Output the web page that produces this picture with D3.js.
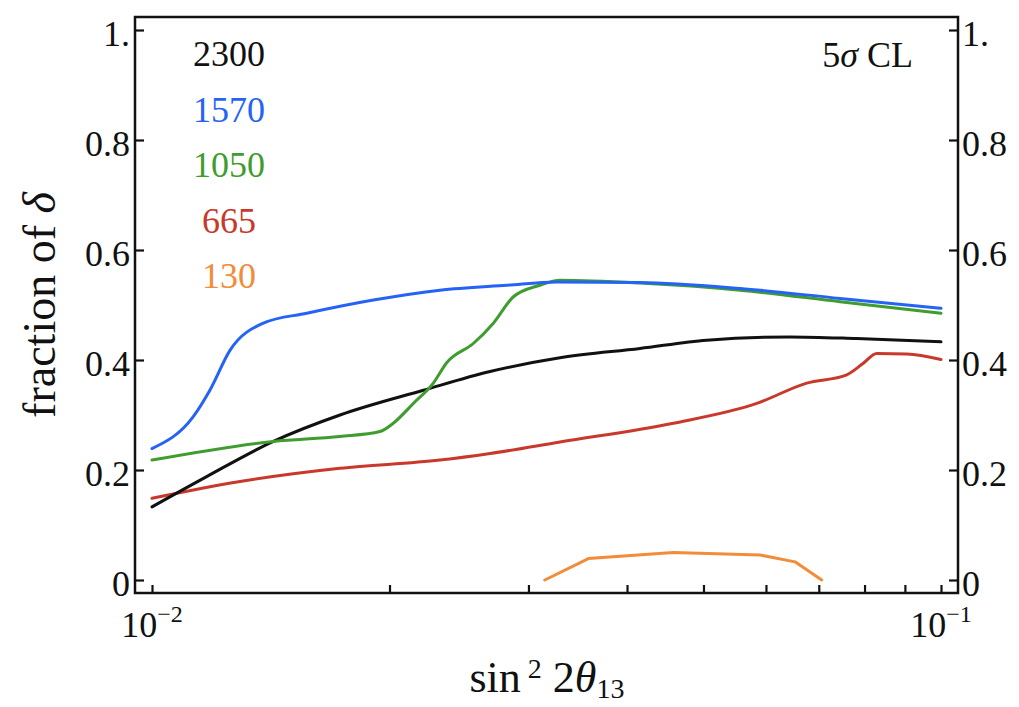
<!DOCTYPE html>
<html>
<head>
<meta charset="utf-8">
<script src="https://cdn.jsdelivr.net/npm/d3@7/dist/d3.min.js"></script>
<style>
  html, body { margin: 0; padding: 0; background: #fff; }
  svg { display: block; }
  text { font-family: "Liberation Serif", "DejaVu Serif", serif; fill: #111; }
</style>
</head>
<body>
<svg id="chart" width="1019" height="707"></svg>
<script>
// sin^2 2θ13 sample points and fraction of δ for each exposure
const x2300 = [0.0100, 0.01173, 0.01425, 0.01731, 0.02208, 0.02682, 0.03289, 0.04154, 0.05047, 0.06436, 0.0782, 0.1000];
const y2300 = [0.133, 0.188, 0.252, 0.300, 0.345, 0.379, 0.404, 0.421, 0.436, 0.442, 0.439, 0.433];

const x1570 = [0.0100, 0.01128, 0.01184, 0.01256, 0.01384, 0.01571, 0.01908, 0.02317, 0.02816, 0.03258, 0.04154, 0.05564, 0.07447, 0.1000];
const y1570 = [0.239, 0.297, 0.345, 0.418, 0.467, 0.485, 0.509, 0.527, 0.536, 0.542, 0.541, 0.530, 0.512, 0.494];

const x1050 = [0.0100, 0.01425, 0.01731, 0.01945, 0.02022, 0.02144, 0.02273, 0.02363, 0.02554, 0.02708, 0.02871, 0.03102, 0.03289, 0.04154, 0.05564, 0.07447, 0.1000];
const y1050 = [0.218, 0.252, 0.261, 0.270, 0.285, 0.321, 0.358, 0.395, 0.430, 0.467, 0.515, 0.536, 0.545, 0.540, 0.527, 0.506, 0.485];

const x665 = [0.0100, 0.01293, 0.01731, 0.02317, 0.02682, 0.03289, 0.04579, 0.0584, 0.06757, 0.07594, 0.07971, 0.08289, 0.09048, 0.1000];
const y665 = [0.1485, 0.179, 0.203, 0.218, 0.230, 0.251, 0.285, 0.321, 0.358, 0.373, 0.394, 0.412, 0.411, 0.401];

const x130 = [0.03147, 0.03573, 0.04579, 0.05897, 0.06531, 0.0706];
const y130 = [0.000, 0.039, 0.050, 0.0455, 0.033, 0.000];

const seriesNames = ["2300", "1570", "1050", "665", "130"];
const seriesColors = ["#111111", "#2463f5", "#3f9c2e", "#c8392c", "#f28c38"];

const xTicks = [0.01, 0.02, 0.03, 0.04, 0.05, 0.06, 0.07, 0.08, 0.09, 0.1];
const xTickLabels = [[0.01, "10", "\u22122"], [0.1, "10", "\u22121"]];
const yTicks = [0, 0.2, 0.4, 0.6, 0.8, 1];
const yTickLabels = ["0", "0.2", "0.4", "0.6", "0.8", "1."];

const svg = d3.select("#chart");

const frame = { left: 135, right: 958, top: 17, bottom: 593 };
const x = d3.scaleLog().domain([0.01, 0.1]).range([152, 941]);
const y = d3.scaleLinear().domain([0, 1]).range([580, 30]);

// data curves
const series = [
  { xs: x2300, ys: y2300, curve: d3.curveMonotoneX },
  { xs: x1570, ys: y1570, curve: d3.curveMonotoneX },
  { xs: x1050, ys: y1050, curve: d3.curveMonotoneX },
  { xs: x665,  ys: y665,  curve: d3.curveMonotoneX },
  { xs: x130,  ys: y130,  curve: d3.curveLinear }
];

const lines = svg.append("g");
// draw order: red, black, green, blue on top, orange
[3, 0, 2, 1, 4].forEach(i => {
  const s = series[i];
  const pts = s.xs.map((v, k) => [v, s.ys[k]]);
  const line = d3.line().x(d => x(d[0])).y(d => y(d[1])).curve(s.curve);
  lines.append("path")
    .attr("d", line(pts))
    .attr("fill", "none")
    .attr("stroke", seriesColors[i])
    .attr("stroke-width", 3)
    .attr("stroke-linejoin", "round")
    .attr("stroke-linecap", "round");
});

// frame
svg.append("rect")
  .attr("x", frame.left).attr("y", frame.top)
  .attr("width", frame.right - frame.left).attr("height", frame.bottom - frame.top)
  .attr("fill", "none").attr("stroke", "#111").attr("stroke-width", 2.5);

// bottom ticks, pointing inward
const xAxis = svg.append("g")
  .attr("transform", `translate(0,${frame.bottom})`)
  .call(d3.axisBottom(x).tickValues(xTicks).tickSize(-8).tickFormat(""));
xAxis.select(".domain").remove();
xAxis.selectAll(".tick line").attr("stroke", "#111").attr("stroke-width", 2.2);

// left and right ticks with labels
const yFmt = (d, i) => yTickLabels[i];
const yLeft = svg.append("g")
  .attr("transform", `translate(${frame.left},0)`)
  .call(d3.axisLeft(y).tickValues(yTicks).tickSize(-9).tickPadding(5).tickFormat(yFmt));
const yRight = svg.append("g")
  .attr("transform", `translate(${frame.right},0)`)
  .call(d3.axisRight(y).tickValues(yTicks).tickSize(-9).tickPadding(4).tickFormat(yFmt));
[yLeft, yRight].forEach(g => {
  g.select(".domain").remove();
  g.selectAll(".tick line").attr("stroke", "#111").attr("stroke-width", 2.2);
  g.selectAll(".tick text")
    .attr("font-family", "Liberation Serif, serif")
    .attr("font-size", 36)
    .attr("dy", "0.42em")
    .attr("fill", "#111");
});

// x tick labels 10^-2 and 10^-1
xTickLabels.forEach(([v, base, exp]) => {
  const t = svg.append("text")
    .attr("x", x(v))
    .attr("y", 637)
    .attr("text-anchor", "middle")
    .attr("font-size", 36);
  t.append("tspan").text(base);
  t.append("tspan").attr("dy", -15).attr("font-size", 24).text(exp);
});

// legend
seriesNames.forEach((name, i) => {
  svg.append("text")
    .attr("x", 229)
    .attr("y", 66 + i * 55.5)
    .attr("text-anchor", "middle")
    .attr("font-size", 36)
    .style("fill", seriesColors[i])
    .text(name);
});

// confidence level note
const cl = svg.append("text")
  .attr("x", 913).attr("y", 67)
  .attr("text-anchor", "end")
  .attr("font-size", 36);
cl.append("tspan").text("5");
cl.append("tspan").attr("font-style", "italic").text("\u03c3");
cl.append("tspan").text(" CL");

// axis titles
svg.append("text")
  .attr("transform", "translate(55,305) rotate(-90)")
  .attr("text-anchor", "middle")
  .attr("font-size", 46)
  .selectAll("tspan")
  .data([["fraction of ", "normal"], ["\u03b4", "italic"]])
  .join("tspan")
  .attr("font-style", d => d[1])
  .text(d => d[0]);

const xt = svg.append("text")
  .attr("x", 547).attr("y", 692)
  .attr("text-anchor", "middle")
  .attr("font-size", 44);
xt.append("tspan").text("sin");
xt.append("tspan").attr("dy", -14).attr("font-size", 28).text(" 2");
xt.append("tspan").attr("dy", 14).text(" 2");
xt.append("tspan").attr("font-style", "italic").text("\u03b8");
xt.append("tspan").attr("dy", 6).attr("font-size", 28).text("13");
</script>
</body>
</html>
